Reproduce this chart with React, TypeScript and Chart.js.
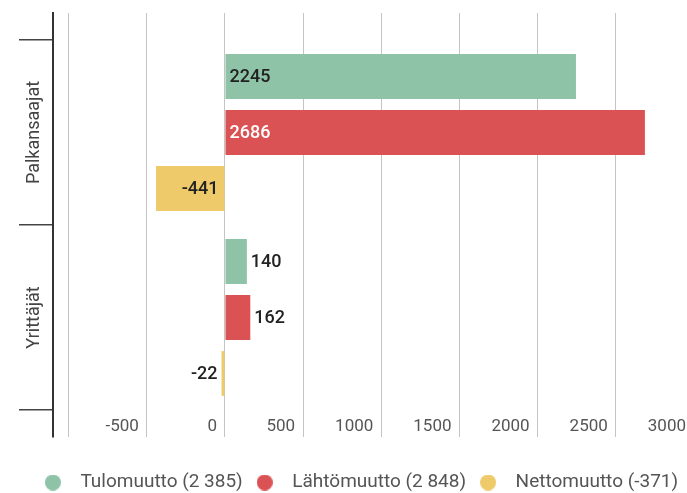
import React, { useEffect, useRef } from 'react';
import { Chart, registerables } from 'chart.js';

Chart.register(...registerables);

const categories = ['Palkansaajat', 'Yrittäjät'];
const seriesNames = ['Tulomuutto (2 385)', 'Lähtömuutto (2 848)', 'Nettomuutto (-371)'];
const tulomuutto = [2245, 140];
const lahtomuutto = [2686, 162];
const nettomuutto = [-441, -22];
const seriesColors = ['#8EC3A7', '#DB5254', '#EFCA6B'];
const xTickValues = [-1000, -500, 0, 500, 1000, 1500, 2000, 2500, 3000];
const hiddenTickLabels = [-1000];
const categoryBoundaries = [-0.5, 0.5, 1.5];

const FONT = 'Roboto';

const valueLabels = {
  id: 'valueLabels',
  afterDatasetsDraw(chart: any) {
    const ctx = chart.ctx;
    ctx.save();
    ctx.font = `500 18px ${FONT}`;
    ctx.textBaseline = 'middle';
    chart.data.datasets.forEach((ds: any, di: number) => {
      const meta = chart.getDatasetMeta(di);
      meta.data.forEach((bar: any, i: number) => {
        const v = ds.data[i].x;
        const text = String(v);
        const w = ctx.measureText(text).width;
        const len = Math.abs(bar.x - bar.base);
        const pos = v >= 0;
        const inside = len >= w + 10;
        let x: number;
        let color = '#222';
        if (inside) {
          x = pos ? bar.base + 4 : bar.base - 6;
          if (di === 1) color = '#ffffff';
        } else {
          x = pos ? bar.x + 4 : bar.x - 4;
        }
        ctx.textAlign = pos ? 'left' : 'right';
        ctx.fillStyle = color;
        ctx.fillText(text, x, bar.y + 1);
      });
    });
    ctx.restore();
  },
};

const categoryLabels = {
  id: 'categoryLabels',
  afterDraw(chart: any) {
    const ctx = chart.ctx;
    const yScale = chart.scales.y;
    ctx.save();
    ctx.font = `18px ${FONT}`;
    ctx.fillStyle = '#444';
    ctx.textAlign = 'center';
    ctx.textBaseline = 'middle';
    categories.forEach((c, i) => {
      const y = yScale.getPixelForValue(i);
      const x = yScale.left + 15.5;
      ctx.save();
      ctx.translate(x, y);
      ctx.rotate(-Math.PI / 2);
      ctx.fillText(c, 0, 0);
      ctx.restore();
    });
    ctx.restore();
  },
};

function makeDot(color: string) {
  const c = document.createElement('canvas');
  c.width = 16;
  c.height = 16;
  const g = c.getContext('2d')!;
  g.fillStyle = color;
  g.beginPath();
  g.arc(8, 8, 8, 0, Math.PI * 2);
  g.fill();
  return c;
}

export default function App() {
  const ref = useRef<HTMLCanvasElement>(null);
  useEffect(() => {
    if (!ref.current) return;
    const dots = seriesColors.map(makeDot);
    const series = [tulomuutto, lahtomuutto, nettomuutto];
    const chart = new Chart(ref.current, {
      type: 'bar',
      data: {
        datasets: series.map((vals, si) => ({
          label: seriesNames[si],
          data: vals.map((v, i) => ({ x: v, y: i })),
          backgroundColor: seriesColors[si],
          borderWidth: 0,
        })),
      },
      options: {
        indexAxis: 'y',
        responsive: false,
        animation: false,
        layout: { padding: { left: 19, top: 13, right: 20, bottom: 0 } },
        datasets: { bar: { categoryPercentage: 0.908, barPercentage: 0.8 } },
        scales: {
          x: {
            type: 'linear',
            position: 'bottom',
            min: -1100,
            max: 3000,
            offset: false,
            afterBuildTicks: (axis: any) => {
              axis.ticks = xTickValues.map((v) => ({ value: v }));
            },
            afterFit: (axis: any) => {
              axis.height = axis.height + 32;
            },
            grid: { color: '#c4c4c4', lineWidth: 1, drawTicks: false, offset: false },
            border: { display: false },
            ticks: {
              mirror: true,
              padding: 0,
              align: 'end',
              labelOffset: -8,
              autoSkip: false,
              maxRotation: 0,
              color: '#555',
              font: { family: FONT, size: 17 },
              callback: (v: any) => (hiddenTickLabels.includes(v) ? '' : String(v)),
            },
          },
          y: {
            type: 'linear',
            reverse: true,
            offset: false,
            min: -0.646,
            max: 1.646,
            afterBuildTicks: (axis: any) => {
              axis.ticks = categoryBoundaries.map((v) => ({ value: v }));
            },
            grid: {
              offset: false,
              drawOnChartArea: false,
              drawTicks: true,
              tickLength: 34,
              color: '#444',
              lineWidth: 1.5,
            },
            border: { display: true, color: '#333', width: 2 },
            ticks: { display: false },
          },
        },
        plugins: {
          tooltip: { enabled: false },
          legend: {
            position: 'bottom',
            align: 'center',
            labels: {
              usePointStyle: true,
              pointStyleWidth: 36,
              boxHeight: 16,
              padding: 4,
              color: '#555',
              font: { family: FONT, size: 19 },
              generateLabels: (ch: any) =>
                (Chart.defaults.plugins.legend.labels as any)
                  .generateLabels(ch)
                  .map((it: any, i: number) => ({ ...it, pointStyle: dots[i] })),
            },
          },
        },
      } as any,
      plugins: [valueLabels, categoryLabels],
    });
    return () => chart.destroy();
  }, []);

  return (
    <div
      style={{
        position: 'fixed',
        left: 0,
        top: 0,
        width: 687,
        height: 493,
        overflow: 'hidden',
        background: '#fff',
      }}
    >
      <canvas ref={ref} width={714} height={502} style={{ display: 'block' }} />
    </div>
  );
}
